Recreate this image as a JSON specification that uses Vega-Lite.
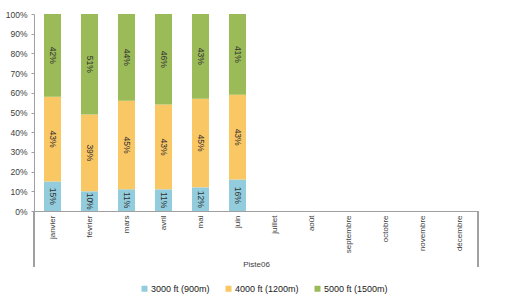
{
  "$schema": "https://vega.github.io/schema/vega-lite/v6.json",
  "width": 444,
  "height": 197,
  "autosize": {"type": "none"},
  "padding": {"left": 34, "top": 14, "right": 52, "bottom": 94},
  "background": "white",
  "config": {
    "view": {"stroke": null},
    "font": "Liberation Sans",
    "axis": {"labelFont": "Liberation Sans", "titleFont": "Liberation Sans"},
    "axisY": {
      "labelOverlap": false,
      "labelFontSize": 8.5,
      "labelColor": "#404040",
      "labelPadding": 4,
      "tickSize": 3,
      "tickColor": "#a0a0a0",
      "domainColor": "#a0a0a0",
      "grid": false
    },
    "legend": {"labelFont": "Liberation Sans"}
  },
  "data": {
    "values": [
      {"month": "janvier", "serie": "3000 ft (900m)", "value": 0.15},
      {"month": "janvier", "serie": "4000 ft (1200m)", "value": 0.43},
      {"month": "janvier", "serie": "5000 ft (1500m)", "value": 0.42},
      {"month": "février", "serie": "3000 ft (900m)", "value": 0.10},
      {"month": "février", "serie": "4000 ft (1200m)", "value": 0.39},
      {"month": "février", "serie": "5000 ft (1500m)", "value": 0.51},
      {"month": "mars", "serie": "3000 ft (900m)", "value": 0.11},
      {"month": "mars", "serie": "4000 ft (1200m)", "value": 0.45},
      {"month": "mars", "serie": "5000 ft (1500m)", "value": 0.44},
      {"month": "avril", "serie": "3000 ft (900m)", "value": 0.11},
      {"month": "avril", "serie": "4000 ft (1200m)", "value": 0.43},
      {"month": "avril", "serie": "5000 ft (1500m)", "value": 0.46},
      {"month": "mai", "serie": "3000 ft (900m)", "value": 0.12},
      {"month": "mai", "serie": "4000 ft (1200m)", "value": 0.45},
      {"month": "mai", "serie": "5000 ft (1500m)", "value": 0.43},
      {"month": "juin", "serie": "3000 ft (900m)", "value": 0.16},
      {"month": "juin", "serie": "4000 ft (1200m)", "value": 0.43},
      {"month": "juin", "serie": "5000 ft (1500m)", "value": 0.41}
    ]
  },
  "encoding": {
    "x": {
      "field": "month",
      "type": "nominal",
      "scale": {
        "domain": ["janvier", "février", "mars", "avril", "mai", "juin", "juillet", "août", "septembre", "octobre", "novembre", "décembre"],
        "paddingInner": 0,
        "paddingOuter": 0
      },
      "axis": {
        "title": "Piste06",
        "titleFontSize": 8,
        "titleFontWeight": "normal",
        "titleColor": "#404040",
        "titlePadding": 8,
        "labelAngle": 270,
        "labelAlign": "right",
        "labelBaseline": "middle",
        "labelPadding": 4,
        "labelFontSize": 8,
        "labelColor": "#404040",
        "ticks": false,
        "domainColor": "#a0a0a0"
      }
    }
  },
  "layer": [
    {
      "mark": {"type": "bar", "width": {"band": 0.46}},
      "encoding": {
        "y": {
          "field": "value",
          "type": "quantitative",
          "stack": "normalize",
          "scale": {"domain": [0, 1]},
          "axis": {
            "title": null,
            "format": ".0%",
            "values": [0, 0.1, 0.2, 0.3, 0.4, 0.5, 0.6, 0.7, 0.8, 0.9, 1]
          }
        },
        "order": {"field": "serie", "sort": "ascending"},
        "color": {
          "field": "serie",
          "type": "nominal",
          "scale": {
            "domain": ["3000 ft (900m)", "4000 ft (1200m)", "5000 ft (1500m)"],
            "range": ["#93CDDD", "#FAC765", "#9BBB59"]
          },
          "legend": {
            "title": null,
            "orient": "none",
            "direction": "horizontal",
            "legendX": 106,
            "legendY": 270,
            "symbolType": "square",
            "symbolSize": 36,
            "symbolStrokeWidth": 0,
            "labelFontSize": 9,
            "labelColor": "#202020",
            "labelOffset": 2,
            "columnPadding": 14
          }
        }
      }
    },
    {
      "transform": [
        {"stack": "value", "groupby": ["month"], "sort": [{"field": "serie"}], "offset": "normalize", "as": ["y0", "y1"]},
        {"calculate": "(datum.y0 + datum.y1) / 2", "as": "mid"}
      ],
      "mark": {"type": "text", "angle": 90, "fontSize": 8.5, "color": "#303030", "baseline": "middle", "align": "center"},
      "encoding": {
        "y": {
          "field": "mid",
          "type": "quantitative",
          "axis": {
            "title": null,
            "format": ".0%",
            "values": [0, 0.1, 0.2, 0.3, 0.4, 0.5, 0.6, 0.7, 0.8, 0.9, 1]
          }
        },
        "text": {"field": "value", "type": "quantitative", "format": ".0%"}
      }
    },
    {
      "mark": {"type": "rule", "color": "#a0a0a0", "strokeWidth": 1},
      "encoding": {
        "x": {"datum": "janvier", "bandPosition": 0},
        "y": {
          "datum": 0,
          "type": "quantitative",
          "axis": {
            "title": null,
            "format": ".0%",
            "values": [0, 0.1, 0.2, 0.3, 0.4, 0.5, 0.6, 0.7, 0.8, 0.9, 1]
          }
        },
        "y2": {"datum": -0.284}
      }
    },
    {
      "mark": {"type": "rule", "color": "#a0a0a0", "strokeWidth": 1},
      "encoding": {
        "x": {"datum": "décembre", "bandPosition": 1},
        "y": {
          "datum": 0,
          "type": "quantitative",
          "axis": {
            "title": null,
            "format": ".0%",
            "values": [0, 0.1, 0.2, 0.3, 0.4, 0.5, 0.6, 0.7, 0.8, 0.9, 1]
          }
        },
        "y2": {"datum": -0.284}
      }
    }
  ]
}
